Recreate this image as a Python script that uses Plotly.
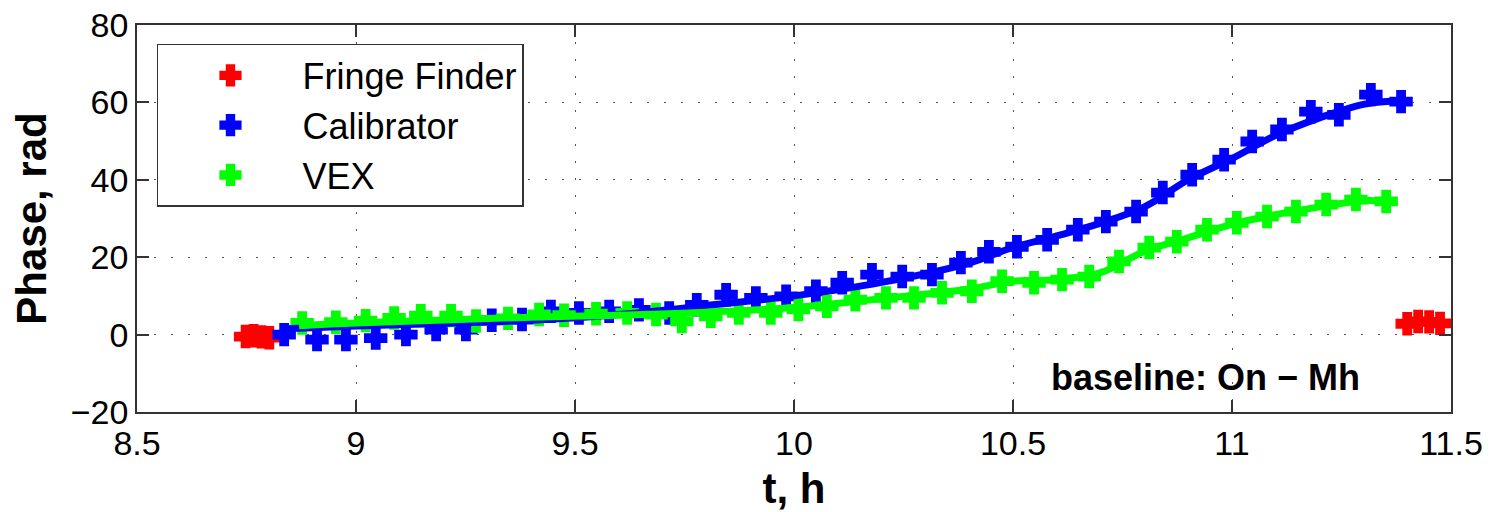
import plotly.graph_objects as go

# ---- data ----
ff_t = [8.748, 8.766, 8.784, 8.802, 11.400, 11.425, 11.450, 11.475]
ff_phase = [-0.5, -0.3, -0.6, -0.8, 2.8, 3.4, 3.3, 2.9]

cal_t = [8.836, 8.911, 8.977, 9.045, 9.114, 9.183, 9.251, 9.310, 9.379, 9.445,
         9.509, 9.578, 9.646, 9.715, 9.778, 9.845, 9.913, 9.982, 10.050, 10.110,
         10.178, 10.247, 10.315, 10.381, 10.445, 10.509, 10.578, 10.648, 10.712,
         10.781, 10.842, 10.909, 10.982, 11.046, 11.114, 11.180, 11.244, 11.317,
         11.386]
cal_phase = [0.0, -1.3, -1.3, -0.9, 0.0, 1.3, 1.3, 3.7, 3.9, 6.0,
             5.6, 6.0, 6.4, 5.6, 7.7, 10.3, 9.5, 9.9, 11.2, 13.4,
             15.5, 15.0, 15.5, 18.6, 21.4, 22.7, 24.5, 27.1, 29.2,
             31.8, 36.7, 41.3, 45.2, 49.9, 53.0, 57.6, 56.8, 62.0,
             60.2]

vex_t = [8.877, 8.954, 9.022, 9.087, 9.148, 9.217, 9.274, 9.347, 9.418, 9.475,
         9.548, 9.619, 9.685, 9.744, 9.810, 9.874, 9.947, 10.010, 10.075, 10.140,
         10.210, 10.274, 10.338, 10.406, 10.475, 10.548, 10.612, 10.674, 10.742,
         10.811, 10.874, 10.943, 11.011, 11.080, 11.146, 11.215, 11.283, 11.352]
vex_phase = [3.0, 3.2, 3.6, 4.3, 4.9, 4.9, 3.5, 4.2, 5.2, 5.0,
             5.4, 5.6, 5.2, 3.4, 4.7, 5.6, 5.6, 6.5, 7.3, 9.0,
             9.5, 9.5, 10.8, 11.2, 13.8, 13.4, 14.2, 15.0, 18.9,
             22.5, 24.0, 27.1, 28.9, 30.5, 31.8, 33.6, 34.9, 34.4]

# smooth fitted curves
cal_fit_t = [8.84, 9.0, 9.2, 9.4, 9.6, 9.8, 10.0, 10.2, 10.4, 10.5, 10.6, 10.7,
             10.8, 10.9, 11.0, 11.1, 11.2, 11.3, 11.39]
cal_fit = [1.5, 2.2, 2.9, 3.7, 5.2, 7.5, 10.0, 13.5, 18.5, 22.5, 25.5, 28.8,
           33.0, 40.0, 45.5, 51.5, 56.0, 59.5, 60.5]
vex_fit_t = [8.87, 9.0, 9.2, 9.4, 9.6, 9.8, 10.0, 10.2, 10.4, 10.5, 10.6, 10.7,
             10.8, 10.9, 11.0, 11.1, 11.2, 11.3, 11.35]
vex_fit = [2.3, 3.0, 3.8, 4.5, 5.0, 5.8, 7.0, 9.3, 11.8, 13.8, 14.2, 16.0,
           21.5, 25.0, 28.5, 31.0, 33.0, 34.6, 34.4]

x_ticks = [8.5, 9, 9.5, 10, 10.5, 11, 11.5]
x_ticktext = ["8.5", "9", "9.5", "10", "10.5", "11", "11.5"]
y_ticks = [-20, 0, 20, 40, 60, 80]

RED, BLUE, GREEN = "#ff0000", "#0000ff", "#00ff00"
FONT = "Liberation Sans, Arial, Helvetica, sans-serif"
MSIZE = 17
MLINE = 3


def cross(color):
    return dict(symbol="cross", size=MSIZE, color=color, line=dict(width=MLINE, color=color))


fig = go.Figure()
fig.add_trace(go.Scatter(x=ff_t, y=ff_phase, mode="markers", name="Fringe Finder",
                         legendgroup="ff", cliponaxis=False, marker=cross(RED)))
fig.add_trace(go.Scatter(x=cal_t, y=cal_phase, mode="markers", name="Calibrator",
                         legendgroup="cal", cliponaxis=False, marker=cross(BLUE)))
fig.add_trace(go.Scatter(x=vex_t, y=vex_phase, mode="markers", name="VEX",
                         legendgroup="vex", cliponaxis=False, marker=cross(GREEN)))
fig.add_trace(go.Scatter(x=cal_fit_t, y=cal_fit, mode="lines", name="Calibrator fit",
                         legendgroup="cal", showlegend=False,
                         line=dict(color=BLUE, width=7, shape="spline")))
fig.add_trace(go.Scatter(x=vex_fit_t, y=vex_fit, mode="lines", name="VEX fit",
                         legendgroup="vex", showlegend=False,
                         line=dict(color=GREEN, width=7, shape="spline")))

axis_common = dict(
    showline=True, linecolor="#333", linewidth=1.5, mirror="ticks",
    ticks="inside", ticklen=12, tickwidth=1.5, tickcolor="#333",
    showgrid=True, gridcolor="#555", gridwidth=1, griddash="2px,15px",
    zeroline=False, automargin=False,
    tickfont=dict(family=FONT, size=34, color="black"),
)

fig.update_layout(
    width=1499, height=512,
    margin=dict(l=137, r=48, t=25, b=100),
    paper_bgcolor="white", plot_bgcolor="white",
    font=dict(family=FONT, color="black"),
    xaxis=dict(range=[8.5, 11.5], tickvals=x_ticks, ticktext=x_ticktext,
               title=dict(text="<b>t, h</b>", font=dict(family=FONT, size=42), standoff=14),
               **axis_common),
    yaxis=dict(range=[-20, 80], tickvals=y_ticks,
               title=dict(text="<b>Phase, rad</b>", font=dict(family=FONT, size=42), standoff=11),
               **axis_common),
    legend=dict(x=0.0152, y=0.951, xanchor="left", yanchor="top",
                bgcolor="white", bordercolor="#333", borderwidth=1.5,
                font=dict(family=FONT, size=36), itemwidth=134,
                tracegroupgap=1, traceorder="normal"),
    annotations=[dict(text="<b>baseline: On − Mh</b>", xref="paper", yref="paper",
                      x=0.932, y=0.09, xanchor="right", yanchor="middle",
                      showarrow=False, font=dict(family=FONT, size=36, color="black"))],
)

fig.write_html("out.html")
